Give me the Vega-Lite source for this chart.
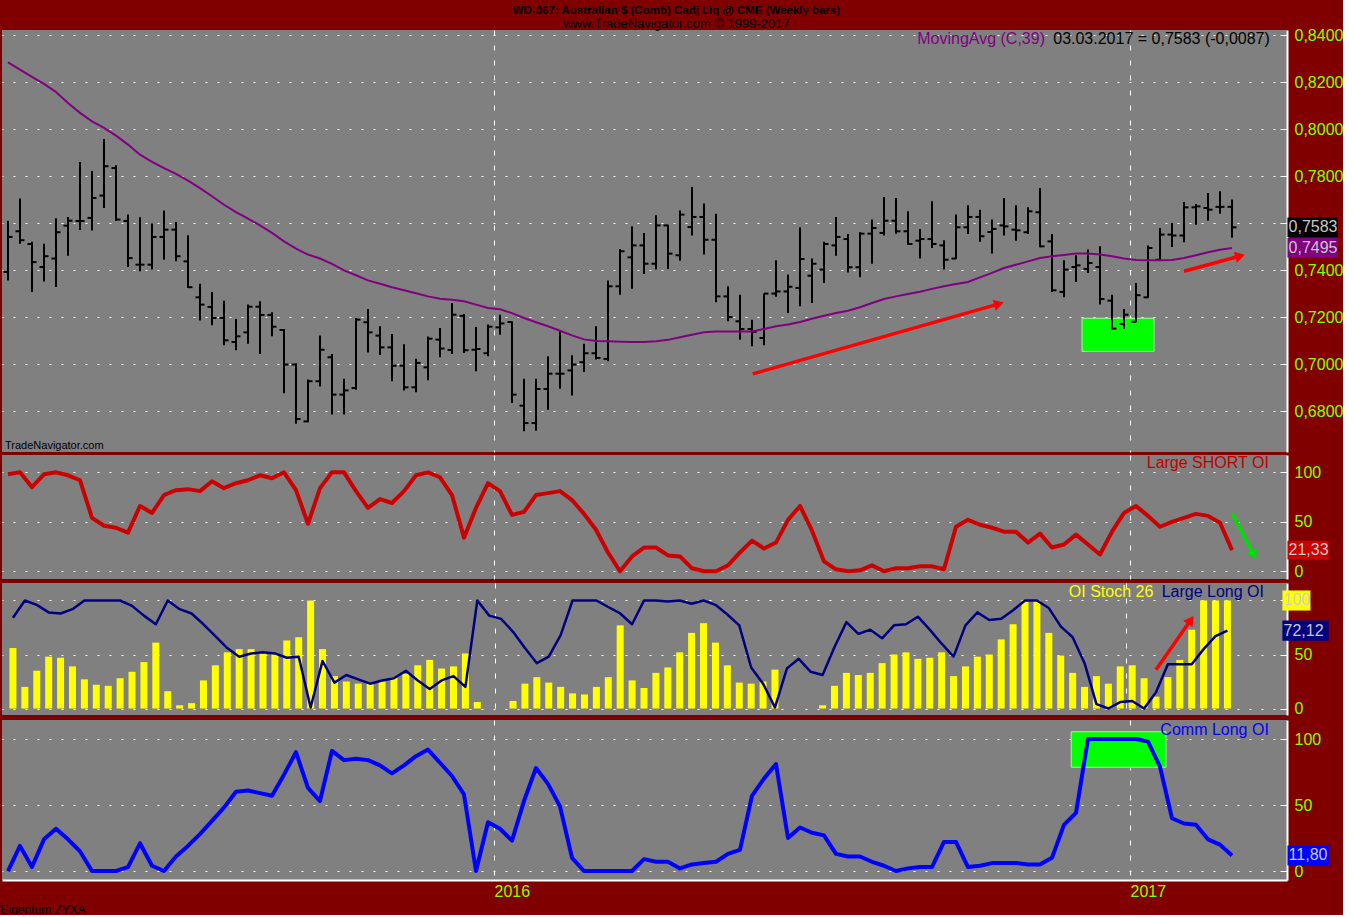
{
"$schema": "https://vega.github.io/schema/vega-lite/v6.json",
"background": "#800000",
"padding": {"left": 0, "top": 4, "right": 0, "bottom": 0},
"title": {"text": "WD-067:  Australian $ (Comb) Cadj Liq @ CME  (Weekly bars)", "subtitle": "www.TradeNavigator.com © 1999-2017", "anchor": "middle", "dx": 5, "font": "Liberation Sans Narrow, Liberation Sans", "fontSize": 11.5, "fontWeight": "bold", "color": "#000000", "subtitleFont": "Liberation Sans Narrow, Liberation Sans", "subtitleFontSize": 13, "subtitleColor": "#000000", "subtitlePadding": 2, "offset": -4},
"datasets": {"bars": [
{"d":"2015-03-20","o":0.7393,"h":0.7611,"l":0.7357,"c":0.7542,"ma":0.8285,"s":98,"st":56,"ll":84,"cl":0},
{"d":"2015-03-27","o":0.7566,"h":0.7706,"l":0.7513,"c":0.7528,"ma":0.8254,"s":100,"st":20,"ll":100,"cl":19},
{"d":"2015-04-03","o":0.7512,"h":0.7521,"l":0.7308,"c":0.7435,"ma":0.8223,"s":85,"st":35,"ll":96,"cl":3},
{"d":"2015-04-10","o":0.7414,"h":0.7513,"l":0.7352,"c":0.7460,"ma":0.8193,"s":98,"st":48,"ll":89,"cl":24},
{"d":"2015-04-17","o":0.7450,"h":0.7621,"l":0.7329,"c":0.7562,"ma":0.8159,"s":100,"st":47,"ll":88,"cl":32},
{"d":"2015-04-24","o":0.7590,"h":0.7627,"l":0.7462,"c":0.7611,"ma":0.8112,"s":97,"st":39,"ll":92,"cl":24},
{"d":"2015-05-01","o":0.7610,"h":0.7861,"l":0.7572,"c":0.7610,"ma":0.8070,"s":92,"st":27,"ll":100,"cl":15},
{"d":"2015-05-08","o":0.7623,"h":0.7823,"l":0.7569,"c":0.7708,"ma":0.8034,"s":54,"st":22,"ll":100,"cl":0},
{"d":"2015-05-15","o":0.7718,"h":0.7959,"l":0.7665,"c":0.7843,"ma":0.8006,"s":46,"st":21,"ll":100,"cl":0},
{"d":"2015-05-22","o":0.7835,"h":0.7847,"l":0.7610,"c":0.7616,"ma":0.7973,"s":44,"st":28,"ll":100,"cl":0},
{"d":"2015-05-29","o":0.7610,"h":0.7637,"l":0.7414,"c":0.7452,"ma":0.7935,"s":39,"st":34,"ll":95,"cl":3},
{"d":"2015-06-05","o":0.7424,"h":0.7626,"l":0.7396,"c":0.7424,"ma":0.7892,"s":66,"st":43,"ll":86,"cl":21},
{"d":"2015-06-12","o":0.7424,"h":0.7599,"l":0.7403,"c":0.7542,"ma":0.7861,"s":59,"st":61,"ll":78,"cl":4},
{"d":"2015-06-19","o":0.7542,"h":0.7655,"l":0.7445,"c":0.7573,"ma":0.7835,"s":77,"st":16,"ll":100,"cl":0},
{"d":"2015-06-26","o":0.7573,"h":0.7606,"l":0.7438,"c":0.7460,"ma":0.7810,"s":82,"st":3,"ll":92,"cl":11},
{"d":"2015-07-03","o":0.7438,"h":0.7549,"l":0.7325,"c":0.7328,"ma":0.7782,"s":83,"st":5,"ll":88,"cl":19},
{"d":"2015-07-10","o":0.7285,"h":0.7343,"l":0.7186,"c":0.7254,"ma":0.7750,"s":81,"st":26,"ll":78,"cl":28},
{"d":"2015-07-17","o":0.7244,"h":0.7308,"l":0.7166,"c":0.7197,"ma":0.7715,"s":91,"st":40,"ll":67,"cl":38},
{"d":"2015-07-24","o":0.7197,"h":0.7270,"l":0.7081,"c":0.7102,"ma":0.7679,"s":84,"st":52,"ll":56,"cl":48},
{"d":"2015-07-31","o":0.7095,"h":0.7193,"l":0.7060,"c":0.7119,"ma":0.7648,"s":89,"st":55,"ll":48,"cl":60},
{"d":"2015-08-07","o":0.7136,"h":0.7254,"l":0.7087,"c":0.7245,"ma":0.7620,"s":92,"st":55,"ll":51,"cl":61},
{"d":"2015-08-14","o":0.7245,"h":0.7268,"l":0.7044,"c":0.7210,"ma":0.7591,"s":97,"st":51,"ll":52,"cl":59},
{"d":"2015-08-21","o":0.7210,"h":0.7221,"l":0.7119,"c":0.7160,"ma":0.7559,"s":94,"st":51,"ll":51,"cl":57},
{"d":"2015-08-28","o":0.7146,"h":0.7150,"l":0.6877,"c":0.6999,"ma":0.7523,"s":100,"st":63,"ll":47,"cl":73},
{"d":"2015-09-04","o":0.6999,"h":0.7005,"l":0.6747,"c":0.6767,"ma":0.7492,"s":82,"st":66,"ll":48,"cl":90},
{"d":"2015-09-11","o":0.6757,"h":0.6935,"l":0.6753,"c":0.6928,"ma":0.7467,"s":48,"st":100,"ll":1,"cl":63},
{"d":"2015-09-18","o":0.6928,"h":0.7123,"l":0.6906,"c":0.7062,"ma":0.7450,"s":84,"st":55,"ll":44,"cl":53},
{"d":"2015-09-25","o":0.7030,"h":0.7044,"l":0.6786,"c":0.6871,"ma":0.7427,"s":100,"st":30,"ll":24,"cl":91},
{"d":"2015-10-02","o":0.6871,"h":0.6938,"l":0.6786,"c":0.6889,"ma":0.7400,"s":100,"st":25,"ll":31,"cl":84},
{"d":"2015-10-09","o":0.6899,"h":0.7197,"l":0.6892,"c":0.7190,"ma":0.7379,"s":81,"st":23,"ll":27,"cl":85},
{"d":"2015-10-16","o":0.7179,"h":0.7235,"l":0.7050,"c":0.7136,"ma":0.7357,"s":64,"st":23,"ll":23,"cl":84},
{"d":"2015-10-23","o":0.7122,"h":0.7162,"l":0.7040,"c":0.7072,"ma":0.7343,"s":73,"st":25,"ll":26,"cl":80},
{"d":"2015-10-30","o":0.7072,"h":0.7129,"l":0.6928,"c":0.6994,"ma":0.7328,"s":69,"st":29,"ll":28,"cl":74},
{"d":"2015-11-06","o":0.6994,"h":0.7085,"l":0.6888,"c":0.6902,"ma":0.7315,"s":81,"st":32,"ll":35,"cl":80},
{"d":"2015-11-13","o":0.6902,"h":0.7024,"l":0.6881,"c":0.7006,"ma":0.7302,"s":97,"st":40,"ll":26,"cl":87},
{"d":"2015-11-20","o":0.6987,"h":0.7118,"l":0.6932,"c":0.7109,"ma":0.7289,"s":100,"st":45,"ll":18,"cl":92},
{"d":"2015-11-27","o":0.7105,"h":0.7155,"l":0.7030,"c":0.7067,"ma":0.7279,"s":95,"st":37,"ll":26,"cl":82},
{"d":"2015-12-04","o":0.7061,"h":0.7261,"l":0.7044,"c":0.7211,"ma":0.7275,"s":77,"st":39,"ll":30,"cl":72},
{"d":"2015-12-11","o":0.7206,"h":0.7214,"l":0.7048,"c":0.7060,"ma":0.7268,"s":34,"st":51,"ll":20,"cl":58},
{"d":"2015-12-18","o":0.7062,"h":0.7159,"l":0.6970,"c":0.7065,"ma":0.7254,"s":64,"st":6,"ll":100,"cl":0},
{"d":"2015-12-25","o":0.7047,"h":0.7169,"l":0.7034,"c":0.7160,"ma":0.7240,"s":89,"st":0,"ll":86,"cl":37},
{"d":"2016-01-01","o":0.7157,"h":0.7211,"l":0.7126,"c":0.7174,"ma":0.7234,"s":81,"st":0,"ll":83,"cl":32},
{"d":"2016-01-08","o":0.7180,"h":0.7183,"l":0.6835,"c":0.6871,"ma":0.7218,"s":57,"st":7,"ll":71,"cl":23},
{"d":"2016-01-15","o":0.6824,"h":0.6938,"l":0.6715,"c":0.6750,"ma":0.7197,"s":60,"st":23,"ll":56,"cl":53},
{"d":"2016-01-22","o":0.6750,"h":0.6938,"l":0.6717,"c":0.6895,"ma":0.7179,"s":77,"st":29,"ll":42,"cl":78},
{"d":"2016-01-29","o":0.6895,"h":0.7034,"l":0.6807,"c":0.6960,"ma":0.7162,"s":79,"st":24,"ll":48,"cl":66},
{"d":"2016-02-05","o":0.6960,"h":0.7140,"l":0.6896,"c":0.6960,"ma":0.7143,"s":81,"st":20,"ll":68,"cl":49},
{"d":"2016-02-12","o":0.6974,"h":0.7038,"l":0.6867,"c":0.6999,"ma":0.7123,"s":72,"st":14,"ll":100,"cl":10},
{"d":"2016-02-19","o":0.7009,"h":0.7087,"l":0.6967,"c":0.7047,"ma":0.7106,"s":58,"st":13,"ll":100,"cl":0},
{"d":"2016-02-26","o":0.7047,"h":0.7162,"l":0.7020,"c":0.7027,"ma":0.7099,"s":42,"st":20,"ll":100,"cl":0},
{"d":"2016-03-04","o":0.7023,"h":0.7357,"l":0.7013,"c":0.7332,"ma":0.7098,"s":19,"st":29,"ll":94,"cl":0},
{"d":"2016-03-11","o":0.7332,"h":0.7491,"l":0.7296,"c":0.7481,"ma":0.7096,"s":0,"st":77,"ll":88,"cl":0},
{"d":"2016-03-18","o":0.7455,"h":0.7587,"l":0.7321,"c":0.7506,"ma":0.7095,"s":15,"st":26,"ll":78,"cl":0},
{"d":"2016-03-25","o":0.7506,"h":0.7559,"l":0.7384,"c":0.7428,"ma":0.7095,"s":24,"st":19,"ll":100,"cl":9},
{"d":"2016-04-01","o":0.7428,"h":0.7634,"l":0.7403,"c":0.7591,"ma":0.7098,"s":24,"st":33,"ll":100,"cl":7},
{"d":"2016-04-08","o":0.7591,"h":0.7594,"l":0.7406,"c":0.7471,"ma":0.7104,"s":16,"st":38,"ll":99,"cl":7},
{"d":"2016-04-15","o":0.7464,"h":0.7655,"l":0.7441,"c":0.7637,"ma":0.7115,"s":15,"st":52,"ll":100,"cl":2},
{"d":"2016-04-22","o":0.7584,"h":0.7755,"l":0.7548,"c":0.7627,"ma":0.7126,"s":3,"st":70,"ll":97,"cl":5},
{"d":"2016-04-29","o":0.7627,"h":0.7684,"l":0.7467,"c":0.7530,"ma":0.7136,"s":0,"st":79,"ll":100,"cl":6},
{"d":"2016-05-06","o":0.7530,"h":0.7641,"l":0.7264,"c":0.7289,"ma":0.7140,"s":0,"st":61,"ll":96,"cl":7},
{"d":"2016-05-13","o":0.7289,"h":0.7332,"l":0.7183,"c":0.7201,"ma":0.7140,"s":6,"st":40,"ll":87,"cl":13},
{"d":"2016-05-20","o":0.7183,"h":0.7296,"l":0.7105,"c":0.7150,"ma":0.7140,"s":19,"st":24,"ll":77,"cl":16},
{"d":"2016-05-27","o":0.7150,"h":0.7190,"l":0.7077,"c":0.7138,"ma":0.7140,"s":31,"st":23,"ll":38,"cl":57},
{"d":"2016-06-03","o":0.7112,"h":0.7301,"l":0.7081,"c":0.7301,"ma":0.7150,"s":23,"st":25,"ll":23,"cl":70},
{"d":"2016-06-10","o":0.7301,"h":0.7443,"l":0.7287,"c":0.7310,"ma":0.7162,"s":29,"st":36,"ll":1,"cl":81},
{"d":"2016-06-17","o":0.7310,"h":0.7382,"l":0.7218,"c":0.7330,"ma":0.7169,"s":52,"st":0,"ll":37,"cl":25},
{"d":"2016-06-24","o":0.7325,"h":0.7583,"l":0.7247,"c":0.7448,"ma":0.7180,"s":66,"st":0,"ll":46,"cl":33},
{"d":"2016-07-01","o":0.7377,"h":0.7450,"l":0.7261,"c":0.7428,"ma":0.7194,"s":41,"st":0,"ll":34,"cl":29},
{"d":"2016-07-08","o":0.7403,"h":0.7521,"l":0.7346,"c":0.7512,"ma":0.7207,"s":10,"st":3,"ll":31,"cl":27},
{"d":"2016-07-15","o":0.7506,"h":0.7627,"l":0.7462,"c":0.7542,"ma":0.7218,"s":2,"st":21,"ll":57,"cl":13},
{"d":"2016-07-22","o":0.7533,"h":0.7555,"l":0.7391,"c":0.7413,"ma":0.7228,"s":0,"st":33,"ll":80,"cl":11},
{"d":"2016-07-29","o":0.7413,"h":0.7562,"l":0.7370,"c":0.7556,"ma":0.7243,"s":1,"st":31,"ll":69,"cl":11},
{"d":"2016-08-05","o":0.7556,"h":0.7616,"l":0.7428,"c":0.7580,"ma":0.7261,"s":6,"st":33,"ll":73,"cl":7},
{"d":"2016-08-12","o":0.7559,"h":0.7712,"l":0.7548,"c":0.7611,"ma":0.7278,"s":0,"st":42,"ll":65,"cl":4},
{"d":"2016-08-19","o":0.7611,"h":0.7708,"l":0.7556,"c":0.7566,"ma":0.7289,"s":3,"st":50,"ll":77,"cl":0},
{"d":"2016-08-26","o":0.7566,"h":0.7651,"l":0.7509,"c":0.7512,"ma":0.7299,"s":3,"st":52,"ll":78,"cl":2},
{"d":"2016-09-02","o":0.7526,"h":0.7576,"l":0.7450,"c":0.7533,"ma":0.7309,"s":5,"st":46,"ll":85,"cl":3},
{"d":"2016-09-09","o":0.7533,"h":0.7694,"l":0.7495,"c":0.7512,"ma":0.7321,"s":5,"st":47,"ll":73,"cl":3},
{"d":"2016-09-16","o":0.7506,"h":0.7528,"l":0.7403,"c":0.7445,"ma":0.7332,"s":2,"st":52,"ll":60,"cl":22},
{"d":"2016-09-23","o":0.7450,"h":0.7637,"l":0.7448,"c":0.7583,"ma":0.7342,"s":45,"st":30,"ll":48,"cl":22},
{"d":"2016-09-30","o":0.7583,"h":0.7677,"l":0.7555,"c":0.7627,"ma":0.7350,"s":52,"st":39,"ll":77,"cl":3},
{"d":"2016-10-07","o":0.7627,"h":0.7658,"l":0.7521,"c":0.7545,"ma":0.7370,"s":47,"st":48,"ll":89,"cl":4},
{"d":"2016-10-14","o":0.7563,"h":0.7616,"l":0.7471,"c":0.7576,"ma":0.7389,"s":44,"st":50,"ll":82,"cl":6},
{"d":"2016-10-21","o":0.7591,"h":0.7708,"l":0.7548,"c":0.7587,"ma":0.7410,"s":40,"st":64,"ll":83,"cl":6},
{"d":"2016-10-28","o":0.7573,"h":0.7677,"l":0.7526,"c":0.7570,"ma":0.7424,"s":40,"st":78,"ll":91,"cl":6},
{"d":"2016-11-04","o":0.7562,"h":0.7668,"l":0.7555,"c":0.7651,"ma":0.7438,"s":29,"st":100,"ll":100,"cl":5},
{"d":"2016-11-11","o":0.7647,"h":0.7750,"l":0.7498,"c":0.7502,"ma":0.7452,"s":38,"st":100,"ll":100,"cl":5},
{"d":"2016-11-18","o":0.7523,"h":0.7555,"l":0.7308,"c":0.7315,"ma":0.7460,"s":24,"st":70,"ll":93,"cl":10},
{"d":"2016-11-25","o":0.7308,"h":0.7443,"l":0.7285,"c":0.7403,"ma":0.7465,"s":27,"st":49,"ll":76,"cl":35},
{"d":"2016-12-02","o":0.7414,"h":0.7464,"l":0.7350,"c":0.7421,"ma":0.7471,"s":37,"st":33,"ll":66,"cl":44},
{"d":"2016-12-09","o":0.7406,"h":0.7488,"l":0.7389,"c":0.7431,"ma":0.7472,"s":27,"st":20,"ll":42,"cl":100},
{"d":"2016-12-16","o":0.7414,"h":0.7502,"l":0.7254,"c":0.7278,"ma":0.7467,"s":17,"st":30,"ll":4,"cl":100},
{"d":"2016-12-23","o":0.7271,"h":0.7296,"l":0.7148,"c":0.7152,"ma":0.7460,"s":40,"st":23,"ll":0,"cl":100},
{"d":"2016-12-30","o":0.7172,"h":0.7235,"l":0.7150,"c":0.7211,"ma":0.7450,"s":59,"st":39,"ll":6,"cl":100},
{"d":"2017-01-06","o":0.7181,"h":0.7346,"l":0.7179,"c":0.7294,"ma":0.7444,"s":66,"st":40,"ll":7,"cl":100},
{"d":"2017-01-13","o":0.7285,"h":0.7506,"l":0.7282,"c":0.7495,"ma":0.7443,"s":56,"st":28,"ll":0,"cl":98},
{"d":"2017-01-20","o":0.7445,"h":0.7580,"l":0.7443,"c":0.7552,"ma":0.7443,"s":45,"st":11,"ll":15,"cl":79},
{"d":"2017-01-27","o":0.7552,"h":0.7601,"l":0.7499,"c":0.7548,"ma":0.7444,"s":50,"st":29,"ll":41,"cl":40},
{"d":"2017-02-03","o":0.7548,"h":0.7691,"l":0.7519,"c":0.7668,"ma":0.7452,"s":54,"st":45,"ll":41,"cl":36},
{"d":"2017-02-10","o":0.7668,"h":0.7682,"l":0.7594,"c":0.7672,"ma":0.7464,"s":58,"st":73,"ll":41,"cl":35},
{"d":"2017-02-17","o":0.7665,"h":0.7729,"l":0.7611,"c":0.7658,"ma":0.7477,"s":56,"st":100,"ll":55,"cl":24},
{"d":"2017-02-24","o":0.7670,"h":0.7736,"l":0.7641,"c":0.7670,"ma":0.7487,"s":49,"st":100,"ll":67,"cl":20},
{"d":"2017-03-03","o":0.7670,"h":0.7701,"l":0.7538,"c":0.7583,"ma":0.7495,"s":21.33,"st":100,"ll":72.12,"cl":11.8}
]},
"spacing": 3,
"vconcat": [
{
"width": 1285, "height": 422,
"data": {"name": "bars"},
"layer": [
{"mark": {"type": "rule", "color": "#000000", "strokeWidth": 2, "opacity": 0},
 "encoding": {"x": {"field": "d", "type": "temporal", "scale": {"type":"utc","domain":[{"year":2015,"month":3,"date":16,"hours":12,"utc":true},{"year":2017,"month":4,"date":4,"hours":2,"utc":true}]}, "axis": {"values": [{"year":2015,"month":12,"date":28,"hours":12,"utc":true},{"year":2017,"month":1,"date":2,"hours":12,"utc":true}], "labels": false, "ticks": false, "domain": false, "grid": true, "title": null}},
  "y": {"field": "l", "type": "quantitative", "scale": {"domain": [0.66268, 0.84226], "zero": false, "nice": false}, "axis": {"orient": "right", "values": [0.68,0.70,0.72,0.74,0.76,0.78,0.80,0.82,0.84], "labelExpr": "datum.value == 0.76 ? '' : replace(format(datum.value, '.4f'), '.', ',')", "labelOverlap": false, "grid": true, "title": null}},
  "y2": {"field": "h"}}},
{"data": {"values": [{"note": "box"}]}, "mark": {"type": "rect", "fill": "#00ff00", "stroke": "#b0f0b0", "strokeWidth": 1},
 "encoding": {"x": {"datum": {"year":2016,"month":12,"date":5,"hours":12,"utc":true}, "type": "temporal", "scale": {"type":"utc","domain":[{"year":2015,"month":3,"date":16,"hours":12,"utc":true},{"year":2017,"month":4,"date":4,"hours":2,"utc":true}]}},
  "x2": {"datum": {"year":2017,"month":1,"date":16,"hours":12,"utc":true}},
  "y": {"datum": 0.7055, "type": "quantitative", "scale": {"domain": [0.66268, 0.84226], "zero": false, "nice": false}},
  "y2": {"datum": 0.7196}}},
{"mark": {"type": "rule", "color": "#000000", "strokeWidth": 2},
 "encoding": {"x": {"field": "d", "type": "temporal", "scale": {"type":"utc","domain":[{"year":2015,"month":3,"date":16,"hours":12,"utc":true},{"year":2017,"month":4,"date":4,"hours":2,"utc":true}]}},
  "y": {"field": "l", "type": "quantitative", "scale": {"domain": [0.66268, 0.84226], "zero": false, "nice": false}},
  "y2": {"field": "h"}}},
{"mark": {"type": "rule", "color": "#000000", "strokeWidth": 2, "xOffset": -4.5, "x2Offset": 0},
 "encoding": {"x": {"field": "d", "type": "temporal", "scale": {"type":"utc","domain":[{"year":2015,"month":3,"date":16,"hours":12,"utc":true},{"year":2017,"month":4,"date":4,"hours":2,"utc":true}]}},
  "x2": {"field": "d"},
  "y": {"field": "o", "type": "quantitative", "scale": {"domain": [0.66268, 0.84226], "zero": false, "nice": false}}}},
{"mark": {"type": "rule", "color": "#000000", "strokeWidth": 2, "xOffset": 0, "x2Offset": 4.5},
 "encoding": {"x": {"field": "d", "type": "temporal", "scale": {"type":"utc","domain":[{"year":2015,"month":3,"date":16,"hours":12,"utc":true},{"year":2017,"month":4,"date":4,"hours":2,"utc":true}]}},
  "x2": {"field": "d"},
  "y": {"field": "c", "type": "quantitative", "scale": {"domain": [0.66268, 0.84226], "zero": false, "nice": false}}}},
{"mark": {"type": "line", "color": "#800080", "strokeWidth": 2},
 "encoding": {"x": {"field": "d", "type": "temporal", "scale": {"type":"utc","domain":[{"year":2015,"month":3,"date":16,"hours":12,"utc":true},{"year":2017,"month":4,"date":4,"hours":2,"utc":true}]}},
  "y": {"field": "ma", "type": "quantitative", "scale": {"domain": [0.66268, 0.84226], "zero": false, "nice": false}}}},
{"data": {"values": [{"note": "arrow"}]}, "mark": {"type": "rule", "color": "#ff0000", "strokeWidth": 3.5},
 "encoding": {"x": {"datum": {"year":2016,"month":5,"date":27,"hours":10,"utc":true}, "type": "temporal", "scale": {"type":"utc","domain":[{"year":2015,"month":3,"date":16,"hours":12,"utc":true},{"year":2017,"month":4,"date":4,"hours":2,"utc":true}]}},
  "x2": {"datum": {"year":2016,"month":10,"date":18,"hours":2,"utc":true}},
  "y": {"datum": 0.6959, "type": "quantitative", "scale": {"domain": [0.66268, 0.84226], "zero": false, "nice": false}},
  "y2": {"datum": 0.7257}}},
{"data": {"values": [{"note": "arrowhead"}]}, "mark": {"type": "point", "shape": "triangle-right", "filled": true, "color": "#ff0000", "opacity": 1, "size": 130, "angle": 344},
 "encoding": {"x": {"datum": {"year":2016,"month":10,"date":18,"hours":2,"utc":true}, "type": "temporal", "scale": {"type":"utc","domain":[{"year":2015,"month":3,"date":16,"hours":12,"utc":true},{"year":2017,"month":4,"date":4,"hours":2,"utc":true}]}},
  "y": {"datum": 0.7257, "type": "quantitative", "scale": {"domain": [0.66268, 0.84226], "zero": false, "nice": false}}}},
{"data": {"values": [{"note": "arrow"}]}, "mark": {"type": "rule", "color": "#ff0000", "strokeWidth": 3.5},
 "encoding": {"x": {"datum": {"year":2017,"month":2,"date":3,"hours":0,"utc":true}, "type": "temporal", "scale": {"type":"utc","domain":[{"year":2015,"month":3,"date":16,"hours":12,"utc":true},{"year":2017,"month":4,"date":4,"hours":2,"utc":true}]}},
  "x2": {"datum": {"year":2017,"month":3,"date":7,"hours":17,"utc":true}},
  "y": {"datum": 0.7396, "type": "quantitative", "scale": {"domain": [0.66268, 0.84226], "zero": false, "nice": false}},
  "y2": {"datum": 0.7461}}},
{"data": {"values": [{"note": "arrowhead"}]}, "mark": {"type": "point", "shape": "triangle-right", "filled": true, "color": "#ff0000", "opacity": 1, "size": 130, "angle": 345},
 "encoding": {"x": {"datum": {"year":2017,"month":3,"date":7,"hours":17,"utc":true}, "type": "temporal", "scale": {"type":"utc","domain":[{"year":2015,"month":3,"date":16,"hours":12,"utc":true},{"year":2017,"month":4,"date":4,"hours":2,"utc":true}]}},
  "y": {"datum": 0.7461, "type": "quantitative", "scale": {"domain": [0.66268, 0.84226], "zero": false, "nice": false}}}},
{"data": {"values": [{"label": "MovingAvg (C,39)"}]}, "mark": {"type": "text", "align": "right", "baseline": "middle", "font": "Liberation Sans", "fontSize": 16, "color": "#800080"},
 "encoding": {"x": {"datum": {"year":2016,"month":11,"date":13,"hours":22,"utc":true}, "type": "temporal", "scale": {"type":"utc","domain":[{"year":2015,"month":3,"date":16,"hours":12,"utc":true},{"year":2017,"month":4,"date":4,"hours":2,"utc":true}]}},
  "y": {"datum": 0.8384, "type": "quantitative", "scale": {"domain": [0.66268, 0.84226], "zero": false, "nice": false}},
  "text": {"field": "label"}}},
{"data": {"values": [{"label": "03.03.2017 = 0,7583 (-0,0087)"}]}, "mark": {"type": "text", "align": "right", "baseline": "middle", "font": "Liberation Sans", "fontSize": 16, "color": "#000000"},
 "encoding": {"x": {"datum": {"year":2017,"month":3,"date":25,"hours":2,"utc":true}, "type": "temporal", "scale": {"type":"utc","domain":[{"year":2015,"month":3,"date":16,"hours":12,"utc":true},{"year":2017,"month":4,"date":4,"hours":2,"utc":true}]}},
  "y": {"datum": 0.8384, "type": "quantitative", "scale": {"domain": [0.66268, 0.84226], "zero": false, "nice": false}},
  "text": {"field": "label"}}},
{"data": {"values": [{"label": "TradeNavigator.com"}]}, "mark": {"type": "text", "align": "left", "baseline": "middle", "font": "Liberation Sans", "fontSize": 11, "color": "#000000"},
 "encoding": {"x": {"datum": {"year":2015,"month":3,"date":18,"hours":6,"utc":true}, "type": "temporal", "scale": {"type":"utc","domain":[{"year":2015,"month":3,"date":16,"hours":12,"utc":true},{"year":2017,"month":4,"date":4,"hours":2,"utc":true}]}},
  "y": {"datum": 0.6652, "type": "quantitative", "scale": {"domain": [0.66268, 0.84226], "zero": false, "nice": false}},
  "text": {"field": "label"}}},
{"data": {"values": [{"label": "0,7583"}]}, "mark": {"type": "rect", "fill": "#000000"},
 "encoding": {"x": {"datum": {"year":2017,"month":4,"date":4,"hours":8,"utc":true}, "type": "temporal", "scale": {"type":"utc","domain":[{"year":2015,"month":3,"date":16,"hours":12,"utc":true},{"year":2017,"month":4,"date":4,"hours":2,"utc":true}]}},
  "x2": {"datum": {"year":2017,"month":5,"date":3,"hours":19,"utc":true}},
  "y": {"datum": 0.7541, "type": "quantitative", "scale": {"domain": [0.66268, 0.84226], "zero": false, "nice": false}},
  "y2": {"datum": 0.7625}}},
{"data": {"values": [{"label": "0,7583"}]}, "mark": {"type": "text", "align": "left", "baseline": "middle", "font": "Liberation Sans", "fontSize": 16, "color": "#c8c8c8"},
 "encoding": {"x": {"datum": {"year":2017,"month":4,"date":5,"hours":0,"utc":true}, "type": "temporal", "scale": {"type":"utc","domain":[{"year":2015,"month":3,"date":16,"hours":12,"utc":true},{"year":2017,"month":4,"date":4,"hours":2,"utc":true}]}},
  "y": {"datum": 0.7583, "type": "quantitative", "scale": {"domain": [0.66268, 0.84226], "zero": false, "nice": false}},
  "text": {"field": "label"}}},
{"data": {"values": [{"label": "0,7495"}]}, "mark": {"type": "rect", "fill": "#800080"},
 "encoding": {"x": {"datum": {"year":2017,"month":4,"date":4,"hours":8,"utc":true}, "type": "temporal", "scale": {"type":"utc","domain":[{"year":2015,"month":3,"date":16,"hours":12,"utc":true},{"year":2017,"month":4,"date":4,"hours":2,"utc":true}]}},
  "x2": {"datum": {"year":2017,"month":5,"date":3,"hours":19,"utc":true}},
  "y": {"datum": 0.7453, "type": "quantitative", "scale": {"domain": [0.66268, 0.84226], "zero": false, "nice": false}},
  "y2": {"datum": 0.7537}}},
{"data": {"values": [{"label": "0,7495"}]}, "mark": {"type": "text", "align": "left", "baseline": "middle", "font": "Liberation Sans", "fontSize": 16, "color": "#c8c8c8"},
 "encoding": {"x": {"datum": {"year":2017,"month":4,"date":5,"hours":0,"utc":true}, "type": "temporal", "scale": {"type":"utc","domain":[{"year":2015,"month":3,"date":16,"hours":12,"utc":true},{"year":2017,"month":4,"date":4,"hours":2,"utc":true}]}},
  "y": {"datum": 0.7495, "type": "quantitative", "scale": {"domain": [0.66268, 0.84226], "zero": false, "nice": false}},
  "text": {"field": "label"}}}
]
},
{
"width": 1285, "height": 124,
"data": {"name": "bars"},
"layer": [
{"mark": {"type": "line", "color": "#cc0000", "strokeWidth": 4, "strokeJoin": "round"},
 "encoding": {"x": {"field": "d", "type": "temporal", "scale": {"type":"utc","domain":[{"year":2015,"month":3,"date":16,"hours":12,"utc":true},{"year":2017,"month":4,"date":4,"hours":2,"utc":true}]}, "axis": {"values": [{"year":2015,"month":12,"date":28,"hours":12,"utc":true},{"year":2017,"month":1,"date":2,"hours":12,"utc":true}], "labels": false, "ticks": false, "domain": false, "grid": true, "title": null}},
  "y": {"field": "s", "type": "quantitative", "scale": {"domain": [-7.8, 117.5], "zero": false, "nice": false}, "axis": {"orient": "right", "values": [0,50,100], "labelOverlap": false, "grid": true, "title": null}}}},
{"data": {"values": [{"note": "arrow"}]}, "mark": {"type": "rule", "color": "#00e000", "strokeWidth": 3.5},
 "encoding": {"x": {"datum": {"year":2017,"month":3,"date":3,"hours":0,"utc":true}, "type": "temporal", "scale": {"type":"utc","domain":[{"year":2015,"month":3,"date":16,"hours":12,"utc":true},{"year":2017,"month":4,"date":4,"hours":2,"utc":true}]}},
  "x2": {"datum": {"year":2017,"month":3,"date":15,"hours":19,"utc":true}},
  "y": {"datum": 58.9, "type": "quantitative", "scale": {"domain": [-7.8, 117.5], "zero": false, "nice": false}},
  "y2": {"datum": 16.5}}},
{"data": {"values": [{"note": "arrowhead"}]}, "mark": {"type": "point", "shape": "triangle-right", "filled": true, "color": "#00e000", "opacity": 1, "size": 130, "angle": 62},
 "encoding": {"x": {"datum": {"year":2017,"month":3,"date":15,"hours":19,"utc":true}, "type": "temporal", "scale": {"type":"utc","domain":[{"year":2015,"month":3,"date":16,"hours":12,"utc":true},{"year":2017,"month":4,"date":4,"hours":2,"utc":true}]}},
  "y": {"datum": 16.5, "type": "quantitative", "scale": {"domain": [-7.8, 117.5], "zero": false, "nice": false}}}},
{"data": {"values": [{"label": "Large SHORT OI"}]}, "mark": {"type": "text", "align": "right", "baseline": "middle", "font": "Liberation Sans", "fontSize": 16, "color": "#c00000"},
 "encoding": {"x": {"datum": {"year":2017,"month":3,"date":24,"hours":12,"utc":true}, "type": "temporal", "scale": {"type":"utc","domain":[{"year":2015,"month":3,"date":16,"hours":12,"utc":true},{"year":2017,"month":4,"date":4,"hours":2,"utc":true}]}},
  "y": {"datum": 109.4, "type": "quantitative", "scale": {"domain": [-7.8, 117.5], "zero": false, "nice": false}},
  "text": {"field": "label"}}},
{"data": {"values": [{"label": "21,33"}]}, "mark": {"type": "rect", "fill": "#cc0000"},
 "encoding": {"x": {"datum": {"year":2017,"month":4,"date":4,"hours":8,"utc":true}, "type": "temporal", "scale": {"type":"utc","domain":[{"year":2015,"month":3,"date":16,"hours":12,"utc":true},{"year":2017,"month":4,"date":4,"hours":2,"utc":true}]}},
  "x2": {"datum": {"year":2017,"month":4,"date":28,"hours":10,"utc":true}},
  "y": {"datum": 11.8, "type": "quantitative", "scale": {"domain": [-7.8, 117.5], "zero": false, "nice": false}},
  "y2": {"datum": 30.9}}},
{"data": {"values": [{"label": "21,33"}]}, "mark": {"type": "text", "align": "left", "baseline": "middle", "font": "Liberation Sans", "fontSize": 16, "color": "#c8c8c8"},
 "encoding": {"x": {"datum": {"year":2017,"month":4,"date":5,"hours":0,"utc":true}, "type": "temporal", "scale": {"type":"utc","domain":[{"year":2015,"month":3,"date":16,"hours":12,"utc":true},{"year":2017,"month":4,"date":4,"hours":2,"utc":true}]}},
  "y": {"datum": 21.33, "type": "quantitative", "scale": {"domain": [-7.8, 117.5], "zero": false, "nice": false}},
  "text": {"field": "label"}}}
]
},
{
"width": 1285, "height": 132,
"data": {"name": "bars"},
"layer": [
{"mark": {"type": "bar", "color": "#ffff00", "width": 7},
 "encoding": {"x": {"field": "d", "type": "temporal", "scale": {"type":"utc","domain":[{"year":2015,"month":3,"date":16,"hours":12,"utc":true},{"year":2017,"month":4,"date":4,"hours":2,"utc":true}]}, "axis": {"values": [{"year":2015,"month":12,"date":28,"hours":12,"utc":true},{"year":2017,"month":1,"date":2,"hours":12,"utc":true}], "labels": false, "ticks": false, "domain": false, "grid": true, "title": null}},
  "y": {"field": "st", "type": "quantitative", "scale": {"domain": [-6.0, 116.2], "zero": false, "nice": false}, "axis": {"orient": "right", "values": [0,50,100], "labelExpr": "datum.value == 100 ? '' : datum.label", "labelOverlap": false, "grid": true, "title": null}},
  "y2": {"datum": 0}}},
{"mark": {"type": "line", "color": "#000080", "strokeWidth": 2.5, "strokeJoin": "round"},
 "encoding": {"x": {"field": "d", "type": "temporal", "scale": {"type":"utc","domain":[{"year":2015,"month":3,"date":16,"hours":12,"utc":true},{"year":2017,"month":4,"date":4,"hours":2,"utc":true}]}},
  "y": {"field": "ll", "type": "quantitative", "scale": {"domain": [-6.0, 116.2], "zero": false, "nice": false}}}},
{"data": {"values": [{"note": "arrow"}]}, "mark": {"type": "rule", "color": "#ff0000", "strokeWidth": 3.5},
 "encoding": {"x": {"datum": {"year":2017,"month":1,"date":20,"hours":0,"utc":true}, "type": "temporal", "scale": {"type":"utc","domain":[{"year":2015,"month":3,"date":16,"hours":12,"utc":true},{"year":2017,"month":4,"date":4,"hours":2,"utc":true}]}},
  "x2": {"datum": {"year":2017,"month":2,"date":9,"hours":10,"utc":true}},
  "y": {"datum": 35.9, "type": "quantitative", "scale": {"domain": [-6.0, 116.2], "zero": false, "nice": false}},
  "y2": {"datum": 81.9}}},
{"data": {"values": [{"note": "arrowhead"}]}, "mark": {"type": "point", "shape": "triangle-right", "filled": true, "color": "#ff0000", "opacity": 1, "size": 130, "angle": 305},
 "encoding": {"x": {"datum": {"year":2017,"month":2,"date":9,"hours":10,"utc":true}, "type": "temporal", "scale": {"type":"utc","domain":[{"year":2015,"month":3,"date":16,"hours":12,"utc":true},{"year":2017,"month":4,"date":4,"hours":2,"utc":true}]}},
  "y": {"datum": 81.9, "type": "quantitative", "scale": {"domain": [-6.0, 116.2], "zero": false, "nice": false}}}},
{"data": {"values": [{"label": "OI Stoch 26"}]}, "mark": {"type": "text", "align": "right", "baseline": "middle", "font": "Liberation Sans", "fontSize": 16, "color": "#ffff00"},
 "encoding": {"x": {"datum": {"year":2017,"month":1,"date":18,"hours":10,"utc":true}, "type": "temporal", "scale": {"type":"utc","domain":[{"year":2015,"month":3,"date":16,"hours":12,"utc":true},{"year":2017,"month":4,"date":4,"hours":2,"utc":true}]}},
  "y": {"datum": 107.9, "type": "quantitative", "scale": {"domain": [-6.0, 116.2], "zero": false, "nice": false}},
  "text": {"field": "label"}}},
{"data": {"values": [{"label": "Large Long OI"}]}, "mark": {"type": "text", "align": "right", "baseline": "middle", "font": "Liberation Sans", "fontSize": 16, "color": "#000080"},
 "encoding": {"x": {"datum": {"year":2017,"month":3,"date":24,"hours":12,"utc":true}, "type": "temporal", "scale": {"type":"utc","domain":[{"year":2015,"month":3,"date":16,"hours":12,"utc":true},{"year":2017,"month":4,"date":4,"hours":2,"utc":true}]}},
  "y": {"datum": 107.9, "type": "quantitative", "scale": {"domain": [-6.0, 116.2], "zero": false, "nice": false}},
  "text": {"field": "label"}}},
{"data": {"values": [{"label": "100"}]}, "mark": {"type": "rect", "fill": "#ffff00"},
 "encoding": {"x": {"datum": {"year":2017,"month":4,"date":4,"hours":8,"utc":true}, "type": "temporal", "scale": {"type":"utc","domain":[{"year":2015,"month":3,"date":16,"hours":12,"utc":true},{"year":2017,"month":4,"date":4,"hours":2,"utc":true}]}},
  "x2": {"datum": {"year":2017,"month":4,"date":20,"hours":20,"utc":true}},
  "y": {"datum": 90.7, "type": "quantitative", "scale": {"domain": [-6.0, 116.2], "zero": false, "nice": false}},
  "y2": {"datum": 109.3}}},
{"data": {"values": [{"label": "100"}]}, "mark": {"type": "text", "align": "left", "baseline": "middle", "font": "Liberation Sans", "fontSize": 16, "color": "#d0d0d0"},
 "encoding": {"x": {"datum": {"year":2017,"month":4,"date":5,"hours":0,"utc":true}, "type": "temporal", "scale": {"type":"utc","domain":[{"year":2015,"month":3,"date":16,"hours":12,"utc":true},{"year":2017,"month":4,"date":4,"hours":2,"utc":true}]}},
  "y": {"datum": 100, "type": "quantitative", "scale": {"domain": [-6.0, 116.2], "zero": false, "nice": false}},
  "text": {"field": "label"}}},
{"data": {"values": [{"label": "72,12"}]}, "mark": {"type": "rect", "fill": "#000080"},
 "encoding": {"x": {"datum": {"year":2017,"month":4,"date":4,"hours":8,"utc":true}, "type": "temporal", "scale": {"type":"utc","domain":[{"year":2015,"month":3,"date":16,"hours":12,"utc":true},{"year":2017,"month":4,"date":4,"hours":2,"utc":true}]}},
  "x2": {"datum": {"year":2017,"month":5,"date":1,"hours":12,"utc":true}},
  "y": {"datum": 62.8, "type": "quantitative", "scale": {"domain": [-6.0, 116.2], "zero": false, "nice": false}},
  "y2": {"datum": 81.4}}},
{"data": {"values": [{"label": "72,12"}]}, "mark": {"type": "text", "align": "left", "baseline": "middle", "font": "Liberation Sans", "fontSize": 16, "color": "#c8c8c8"},
 "encoding": {"x": {"datum": {"year":2017,"month":4,"date":5,"hours":0,"utc":true}, "type": "temporal", "scale": {"type":"utc","domain":[{"year":2015,"month":3,"date":16,"hours":12,"utc":true},{"year":2017,"month":4,"date":4,"hours":2,"utc":true}]}},
  "y": {"datum": 72.12, "type": "quantitative", "scale": {"domain": [-6.0, 116.2], "zero": false, "nice": false}},
  "text": {"field": "label"}}}
]
},
{
"width": 1285, "height": 160,
"data": {"name": "bars"},
"layer": [
{"mark": {"type": "line", "color": "#0000ff", "strokeWidth": 4, "strokeJoin": "round", "opacity": 0},
 "encoding": {"x": {"field": "d", "type": "temporal", "scale": {"type":"utc","domain":[{"year":2015,"month":3,"date":16,"hours":12,"utc":true},{"year":2017,"month":4,"date":4,"hours":2,"utc":true}]}, "axis": {"values": [{"year":2015,"month":12,"date":28,"hours":12,"utc":true},{"year":2017,"month":1,"date":2,"hours":12,"utc":true}], "labels": true, "ticks": false, "domain": true, "domainColor": "#ffffff", "domainWidth": 2, "grid": true, "labelExpr": "utcmonth(datum.value) == 11 ? '' + (utcyear(datum.value) + 1) : '' + utcyear(datum.value)", "labelAlign": "left", "labelBaseline": "top", "labelPadding": 3, "labelColor": "#80ff00", "labelFont": "Liberation Sans", "labelFontSize": 16, "labelFlush": false, "labelOverlap": false, "title": "Eigentum ZYXA", "titleX": -2, "titleY": 24, "titleAlign": "left", "titleAnchor": "start", "titleBaseline": "top", "titleFont": "Liberation Sans", "titleFontSize": 12, "titleFontWeight": "normal", "titleColor": "#000000"}},
  "y": {"field": "cl", "type": "quantitative", "scale": {"domain": [-6.8, 114.4], "zero": false, "nice": false}, "axis": {"orient": "right", "values": [0,50,100], "labelOverlap": false, "grid": true, "title": null}}}},
{"data": {"values": [{"note": "box"}]}, "mark": {"type": "rect", "fill": "#00ff00", "stroke": "#b0f0b0", "strokeWidth": 1},
 "encoding": {"x": {"datum": {"year":2016,"month":11,"date":29,"hours":5,"utc":true}, "type": "temporal", "scale": {"type":"utc","domain":[{"year":2015,"month":3,"date":16,"hours":12,"utc":true},{"year":2017,"month":4,"date":4,"hours":2,"utc":true}]}},
  "x2": {"datum": {"year":2017,"month":1,"date":23,"hours":12,"utc":true}},
  "y": {"datum": 78.6, "type": "quantitative", "scale": {"domain": [-6.8, 114.4], "zero": false, "nice": false}},
  "y2": {"datum": 105.5}}},
{"mark": {"type": "line", "color": "#0000ff", "strokeWidth": 4, "strokeJoin": "round"},
 "encoding": {"x": {"field": "d", "type": "temporal", "scale": {"type":"utc","domain":[{"year":2015,"month":3,"date":16,"hours":12,"utc":true},{"year":2017,"month":4,"date":4,"hours":2,"utc":true}]}},
  "y": {"field": "cl", "type": "quantitative", "scale": {"domain": [-6.8, 114.4], "zero": false, "nice": false}}}},
{"data": {"values": [{"label": "Comm Long OI"}]}, "mark": {"type": "text", "align": "right", "baseline": "middle", "font": "Liberation Sans", "fontSize": 16, "color": "#0000ff"},
 "encoding": {"x": {"datum": {"year":2017,"month":3,"date":24,"hours":12,"utc":true}, "type": "temporal", "scale": {"type":"utc","domain":[{"year":2015,"month":3,"date":16,"hours":12,"utc":true},{"year":2017,"month":4,"date":4,"hours":2,"utc":true}]}},
  "y": {"datum": 106.8, "type": "quantitative", "scale": {"domain": [-6.8, 114.4], "zero": false, "nice": false}},
  "text": {"field": "label"}}},
{"data": {"values": [{"label": "11,80"}]}, "mark": {"type": "rect", "fill": "#0000ff"},
 "encoding": {"x": {"datum": {"year":2017,"month":4,"date":4,"hours":8,"utc":true}, "type": "temporal", "scale": {"type":"utc","domain":[{"year":2015,"month":3,"date":16,"hours":12,"utc":true},{"year":2017,"month":4,"date":4,"hours":2,"utc":true}]}},
  "x2": {"datum": {"year":2017,"month":4,"date":28,"hours":12,"utc":true}},
  "y": {"datum": 4.2, "type": "quantitative", "scale": {"domain": [-6.8, 114.4], "zero": false, "nice": false}},
  "y2": {"datum": 19.4}}},
{"data": {"values": [{"label": "11,80"}]}, "mark": {"type": "text", "align": "left", "baseline": "middle", "font": "Liberation Sans", "fontSize": 16, "color": "#c8c8c8"},
 "encoding": {"x": {"datum": {"year":2017,"month":4,"date":5,"hours":0,"utc":true}, "type": "temporal", "scale": {"type":"utc","domain":[{"year":2015,"month":3,"date":16,"hours":12,"utc":true},{"year":2017,"month":4,"date":4,"hours":2,"utc":true}]}},
  "y": {"datum": 11.8, "type": "quantitative", "scale": {"domain": [-6.8, 114.4], "zero": false, "nice": false}},
  "text": {"field": "label"}}}
]
}
],
"config": {
"view": {"fill": "#808080", "stroke": null},
"axisX": {"gridColor": "#ffffff", "gridDash": [5, 10], "gridWidth": 1},
"axisY": {"orient": "right", "gridColor": "#ffffff", "gridDash": [2, 10], "gridWidth": 1, "domainColor": "#ffffff", "domainWidth": 2, "tickColor": "#ffffff", "tickSize": -7, "tickWidth": 1, "labelColor": "#80ff00", "labelFont": "Liberation Sans", "labelFontSize": 16, "labelPadding": 14, "labelOverlap": false, "labelBaseline": "middle"},
"text": {"font": "Liberation Sans"}
}
}
